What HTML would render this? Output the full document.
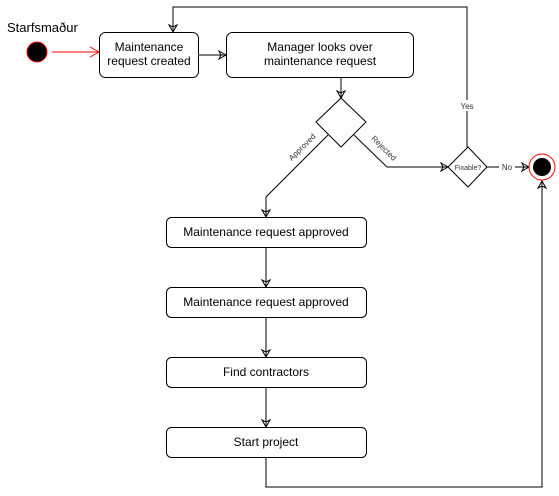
<!DOCTYPE html>
<html><head><style>body{margin:0;background:#fff}svg{display:block}text{font-family:"Liberation Sans",Arial,sans-serif}</style></head><body>
<svg width="559" height="496" viewBox="0 0 559 496" xmlns="http://www.w3.org/2000/svg">
<defs>
<marker id="a" markerWidth="10" markerHeight="10" refX="8" refY="5" orient="auto" markerUnits="userSpaceOnUse"><path d="M1,1 L8,5 L1,9 L3,5 Z" fill="none" stroke="#000" stroke-width="1"/></marker>
<marker id="r" markerWidth="12" markerHeight="12" refX="10" refY="6" orient="auto" markerUnits="userSpaceOnUse"><path d="M1,1 L10,6 L1,11" fill="none" stroke="#f00" stroke-width="1"/></marker>
</defs>
<g fill="none" stroke="#000" stroke-width="1">
<text x="7" y="32" font-size="13" fill="#000" stroke="none">Starfsmaður</text>
<circle cx="37" cy="52" r="10" fill="#000" stroke="#f00"/>
<line x1="52" y1="52" x2="99" y2="52" stroke="#f00" marker-end="url(#r)"/>
<rect x="99.5" y="32.5" width="99" height="45" rx="6" fill="#fff"/>
<rect x="226.5" y="32.5" width="187" height="45" rx="6" fill="#fff"/>
<line x1="198" y1="55" x2="226" y2="55" stroke="#555" stroke-width="1.5" marker-end="url(#a)"/>
<line x1="341" y1="78" x2="341" y2="98" marker-end="url(#a)"/>
<polygon points="341,98 366,122 341,147 316,122" fill="#fff"/>
<polyline points="328,135 266,197 266,217" marker-end="url(#a)"/>
<polyline points="354,135 387,167 448,167" marker-end="url(#a)"/>
<polygon points="468,147 487,167 468,187 448,167" fill="#fff"/>
<polyline points="467,147 467,7 173,7 173,32" marker-end="url(#a)"/>
<line x1="487" y1="167" x2="529" y2="167" marker-end="url(#a)"/>
<circle cx="542" cy="167" r="13" fill="#fff" stroke="#f00"/>
<circle cx="542" cy="167" r="9" fill="#000" stroke="none"/>
<rect x="166.5" y="217.5" width="200" height="30" rx="5" fill="#fff"/>
<rect x="166.5" y="287.5" width="200" height="30" rx="5" fill="#fff"/>
<rect x="166.5" y="357.5" width="200" height="30" rx="5" fill="#fff"/>
<rect x="166.5" y="427.5" width="200" height="30" rx="5" fill="#fff"/>
<line x1="266" y1="248" x2="266" y2="287" marker-end="url(#a)"/>
<line x1="266" y1="318" x2="266" y2="357" marker-end="url(#a)"/>
<line x1="266" y1="388" x2="266" y2="427" marker-end="url(#a)"/>
<polyline points="266,458 266,487 542,487 542,181" marker-end="url(#a)"/>
</g>
<g font-size="12" fill="#000" text-anchor="middle">
<text x="149" y="51">Maintenance</text>
<text x="149" y="65">request created</text>
<text x="320" y="51">Manager looks over</text>
<text x="320" y="65">maintenance request</text>
<text x="266" y="236">Maintenance request approved</text>
<text x="266" y="306">Maintenance request approved</text>
<text x="266" y="376">Find contractors</text>
<text x="266" y="446">Start project</text>
</g>
<g font-size="8" fill="#333" text-anchor="middle">
<rect x="458" y="100" width="18" height="11" fill="#fff"/>
<text x="467" y="109">Yes</text>
<rect x="499" y="162" width="16" height="10" fill="#fff"/>
<text x="507" y="170">No</text>
<text x="468" y="170" font-size="7">Fixable?</text>
<text transform="translate(304,149) rotate(-45)">Approved</text>
<text transform="translate(382,150) rotate(45)">Rejected</text>
</g>
</svg>
</body></html>
